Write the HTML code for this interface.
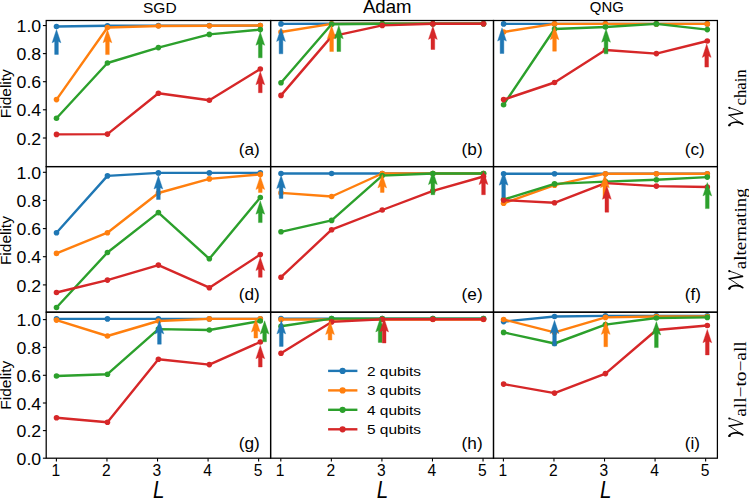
<!DOCTYPE html>
<html><head><meta charset="utf-8"><title>Fidelity vs L</title>
<style>
html,body{margin:0;padding:0;background:#fff;}
body{width:749px;height:498px;overflow:hidden;}
svg{display:block;}
text{font-family:"Liberation Sans",sans-serif;fill:#000;}
.tk{font-size:15.6px;}
.pl{font-size:17.2px;}
.tt{font-size:15.5px;}
.yl{font-size:14.8px;}
.lg{font-size:12.6px;}
.xl{font-size:24px;font-style:italic;}
.sb{font-family:"Liberation Serif",serif;font-size:16.4px;}
</style></head>
<body>
<svg width="749" height="498" viewBox="0 0 749 498">
<rect x="0" y="0" width="749" height="498" fill="#fff"/>
<clipPath id="c00"><rect x="46.20" y="20.50" width="224.40" height="146.10"/></clipPath>
<g clip-path="url(#c00)">
<polyline points="56.50,26.50 107.45,25.70 158.40,25.60 209.35,25.60 260.30,25.60" fill="none" stroke="#1f77b4" stroke-width="2.40" stroke-linejoin="round" stroke-linecap="butt"/>
<circle cx="56.50" cy="26.50" r="2.80" fill="#1f77b4"/>
<circle cx="107.45" cy="25.70" r="2.80" fill="#1f77b4"/>
<circle cx="158.40" cy="25.60" r="2.80" fill="#1f77b4"/>
<circle cx="209.35" cy="25.60" r="2.80" fill="#1f77b4"/>
<circle cx="260.30" cy="25.60" r="2.80" fill="#1f77b4"/>
<polyline points="56.50,99.60 107.45,27.50 158.40,26.00 209.35,25.70 260.30,25.50" fill="none" stroke="#ff7f0e" stroke-width="2.40" stroke-linejoin="round" stroke-linecap="butt"/>
<circle cx="56.50" cy="99.60" r="2.80" fill="#ff7f0e"/>
<circle cx="107.45" cy="27.50" r="2.80" fill="#ff7f0e"/>
<circle cx="158.40" cy="26.00" r="2.80" fill="#ff7f0e"/>
<circle cx="209.35" cy="25.70" r="2.80" fill="#ff7f0e"/>
<circle cx="260.30" cy="25.50" r="2.80" fill="#ff7f0e"/>
<polyline points="56.50,118.20 107.45,63.00 158.40,47.60 209.35,34.40 260.30,29.60" fill="none" stroke="#2ca02c" stroke-width="2.40" stroke-linejoin="round" stroke-linecap="butt"/>
<circle cx="56.50" cy="118.20" r="2.80" fill="#2ca02c"/>
<circle cx="107.45" cy="63.00" r="2.80" fill="#2ca02c"/>
<circle cx="158.40" cy="47.60" r="2.80" fill="#2ca02c"/>
<circle cx="209.35" cy="34.40" r="2.80" fill="#2ca02c"/>
<circle cx="260.30" cy="29.60" r="2.80" fill="#2ca02c"/>
<polyline points="56.50,134.40 107.45,134.10 158.40,93.30 209.35,100.20 260.30,69.00" fill="none" stroke="#d62728" stroke-width="2.40" stroke-linejoin="round" stroke-linecap="butt"/>
<circle cx="56.50" cy="134.40" r="2.80" fill="#d62728"/>
<circle cx="107.45" cy="134.10" r="2.80" fill="#d62728"/>
<circle cx="158.40" cy="93.30" r="2.80" fill="#d62728"/>
<circle cx="209.35" cy="100.20" r="2.80" fill="#d62728"/>
<circle cx="260.30" cy="69.00" r="2.80" fill="#d62728"/>
<polygon points="56.50,29.50 60.90,42.80 58.35,41.50 58.35,54.40 54.65,54.40 54.65,41.50 52.10,42.80" fill="#1f77b4" stroke="#1f77b4" stroke-width="0.4" stroke-linejoin="miter"/>
<polygon points="107.45,29.50 111.85,42.80 109.30,41.50 109.30,54.60 105.60,54.60 105.60,41.50 103.05,42.80" fill="#ff7f0e" stroke="#ff7f0e" stroke-width="0.4" stroke-linejoin="miter"/>
<polygon points="260.30,32.00 264.70,45.30 262.15,44.00 262.15,57.80 258.45,57.80 258.45,44.00 255.90,45.30" fill="#2ca02c" stroke="#2ca02c" stroke-width="0.4" stroke-linejoin="miter"/>
<polygon points="260.30,71.40 264.70,84.70 262.15,83.40 262.15,92.70 258.45,92.70 258.45,83.40 255.90,84.70" fill="#d62728" stroke="#d62728" stroke-width="0.4" stroke-linejoin="miter"/>
</g>
<text x="238.80" y="154.70" class="pl">(a)</text>
<clipPath id="c10"><rect x="270.60" y="20.50" width="222.90" height="146.10"/></clipPath>
<g clip-path="url(#c10)">
<polyline points="281.00,23.90 331.62,23.70 382.25,23.70 432.88,23.70 483.50,23.70" fill="none" stroke="#1f77b4" stroke-width="2.40" stroke-linejoin="round" stroke-linecap="butt"/>
<circle cx="281.00" cy="23.90" r="2.80" fill="#1f77b4"/>
<circle cx="331.62" cy="23.70" r="2.80" fill="#1f77b4"/>
<circle cx="382.25" cy="23.70" r="2.80" fill="#1f77b4"/>
<circle cx="432.88" cy="23.70" r="2.80" fill="#1f77b4"/>
<circle cx="483.50" cy="23.70" r="2.80" fill="#1f77b4"/>
<polyline points="281.00,32.00 331.62,23.90 382.25,23.70 432.88,23.70 483.50,23.70" fill="none" stroke="#ff7f0e" stroke-width="2.40" stroke-linejoin="round" stroke-linecap="butt"/>
<circle cx="281.00" cy="32.00" r="2.80" fill="#ff7f0e"/>
<circle cx="331.62" cy="23.90" r="2.80" fill="#ff7f0e"/>
<circle cx="382.25" cy="23.70" r="2.80" fill="#ff7f0e"/>
<circle cx="432.88" cy="23.70" r="2.80" fill="#ff7f0e"/>
<circle cx="483.50" cy="23.70" r="2.80" fill="#ff7f0e"/>
<polyline points="281.00,82.80 331.62,24.20 382.25,23.70 432.88,23.70 483.50,23.70" fill="none" stroke="#2ca02c" stroke-width="2.40" stroke-linejoin="round" stroke-linecap="butt"/>
<circle cx="281.00" cy="82.80" r="2.80" fill="#2ca02c"/>
<circle cx="331.62" cy="24.20" r="2.80" fill="#2ca02c"/>
<circle cx="382.25" cy="23.70" r="2.80" fill="#2ca02c"/>
<circle cx="432.88" cy="23.70" r="2.80" fill="#2ca02c"/>
<circle cx="483.50" cy="23.70" r="2.80" fill="#2ca02c"/>
<polyline points="281.00,95.40 331.62,36.40 382.25,25.40 432.88,23.70 483.50,23.70" fill="none" stroke="#d62728" stroke-width="2.40" stroke-linejoin="round" stroke-linecap="butt"/>
<circle cx="281.00" cy="95.40" r="2.80" fill="#d62728"/>
<circle cx="331.62" cy="36.40" r="2.80" fill="#d62728"/>
<circle cx="382.25" cy="25.40" r="2.80" fill="#d62728"/>
<circle cx="432.88" cy="23.70" r="2.80" fill="#d62728"/>
<circle cx="483.50" cy="23.70" r="2.80" fill="#d62728"/>
<polygon points="281.00,28.10 285.40,41.40 282.85,40.10 282.85,53.80 279.15,53.80 279.15,40.10 276.60,41.40" fill="#1f77b4" stroke="#1f77b4" stroke-width="0.4" stroke-linejoin="miter"/>
<polygon points="331.62,25.60 336.02,38.90 333.48,37.60 333.48,51.50 329.77,51.50 329.77,37.60 327.23,38.90" fill="#ff7f0e" stroke="#ff7f0e" stroke-width="0.4" stroke-linejoin="miter"/>
<polygon points="338.82,25.40 343.22,38.70 340.68,37.40 340.68,51.50 336.97,51.50 336.97,37.40 334.43,38.70" fill="#2ca02c" stroke="#2ca02c" stroke-width="0.4" stroke-linejoin="miter"/>
<polygon points="432.88,26.10 437.27,39.40 434.73,38.10 434.73,49.50 431.02,49.50 431.02,38.10 428.48,39.40" fill="#d62728" stroke="#d62728" stroke-width="0.4" stroke-linejoin="miter"/>
</g>
<text x="461.60" y="154.70" class="pl">(b)</text>
<clipPath id="c20"><rect x="493.50" y="20.50" width="223.90" height="146.10"/></clipPath>
<g clip-path="url(#c20)">
<polyline points="503.60,23.90 554.52,23.90 605.45,23.90 656.38,23.90 707.30,23.90" fill="none" stroke="#1f77b4" stroke-width="2.40" stroke-linejoin="round" stroke-linecap="butt"/>
<circle cx="503.60" cy="23.90" r="2.80" fill="#1f77b4"/>
<circle cx="554.52" cy="23.90" r="2.80" fill="#1f77b4"/>
<circle cx="605.45" cy="23.90" r="2.80" fill="#1f77b4"/>
<circle cx="656.38" cy="23.90" r="2.80" fill="#1f77b4"/>
<circle cx="707.30" cy="23.90" r="2.80" fill="#1f77b4"/>
<polyline points="503.60,32.00 554.52,23.90 605.45,23.90 656.38,23.90 707.30,23.90" fill="none" stroke="#ff7f0e" stroke-width="2.40" stroke-linejoin="round" stroke-linecap="butt"/>
<circle cx="503.60" cy="32.00" r="2.80" fill="#ff7f0e"/>
<circle cx="554.52" cy="23.90" r="2.80" fill="#ff7f0e"/>
<circle cx="605.45" cy="23.90" r="2.80" fill="#ff7f0e"/>
<circle cx="656.38" cy="23.90" r="2.80" fill="#ff7f0e"/>
<circle cx="707.30" cy="23.90" r="2.80" fill="#ff7f0e"/>
<polyline points="503.60,104.70 554.52,29.00 605.45,27.00 656.38,23.90 707.30,29.60" fill="none" stroke="#2ca02c" stroke-width="2.40" stroke-linejoin="round" stroke-linecap="butt"/>
<circle cx="503.60" cy="104.70" r="2.80" fill="#2ca02c"/>
<circle cx="554.52" cy="29.00" r="2.80" fill="#2ca02c"/>
<circle cx="605.45" cy="27.00" r="2.80" fill="#2ca02c"/>
<circle cx="656.38" cy="23.90" r="2.80" fill="#2ca02c"/>
<circle cx="707.30" cy="29.60" r="2.80" fill="#2ca02c"/>
<polyline points="503.60,99.60 554.52,82.50 605.45,50.00 656.38,53.60 707.30,41.00" fill="none" stroke="#d62728" stroke-width="2.40" stroke-linejoin="round" stroke-linecap="butt"/>
<circle cx="503.60" cy="99.60" r="2.80" fill="#d62728"/>
<circle cx="554.52" cy="82.50" r="2.80" fill="#d62728"/>
<circle cx="605.45" cy="50.00" r="2.80" fill="#d62728"/>
<circle cx="656.38" cy="53.60" r="2.80" fill="#d62728"/>
<circle cx="707.30" cy="41.00" r="2.80" fill="#d62728"/>
<polygon points="502.00,27.80 506.40,41.10 503.85,39.80 503.85,53.50 500.15,53.50 500.15,39.80 497.60,41.10" fill="#1f77b4" stroke="#1f77b4" stroke-width="0.4" stroke-linejoin="miter"/>
<polygon points="554.52,26.50 558.92,39.80 556.38,38.50 556.38,51.20 552.67,51.20 552.67,38.50 550.12,39.80" fill="#ff7f0e" stroke="#ff7f0e" stroke-width="0.4" stroke-linejoin="miter"/>
<polygon points="606.05,28.90 610.45,42.20 607.90,40.90 607.90,53.80 604.20,53.80 604.20,40.90 601.65,42.20" fill="#2ca02c" stroke="#2ca02c" stroke-width="0.4" stroke-linejoin="miter"/>
<polygon points="706.70,44.10 711.10,57.40 708.55,56.10 708.55,67.10 704.85,67.10 704.85,56.10 702.30,57.40" fill="#d62728" stroke="#d62728" stroke-width="0.4" stroke-linejoin="miter"/>
</g>
<text x="684.70" y="154.70" class="pl">(c)</text>
<clipPath id="c01"><rect x="46.20" y="166.60" width="224.40" height="145.60"/></clipPath>
<g clip-path="url(#c01)">
<polyline points="56.50,232.70 107.45,175.90 158.40,172.90 209.35,172.90 260.30,172.90" fill="none" stroke="#1f77b4" stroke-width="2.40" stroke-linejoin="round" stroke-linecap="butt"/>
<circle cx="56.50" cy="232.70" r="2.80" fill="#1f77b4"/>
<circle cx="107.45" cy="175.90" r="2.80" fill="#1f77b4"/>
<circle cx="158.40" cy="172.90" r="2.80" fill="#1f77b4"/>
<circle cx="209.35" cy="172.90" r="2.80" fill="#1f77b4"/>
<circle cx="260.30" cy="172.90" r="2.80" fill="#1f77b4"/>
<polyline points="56.50,253.40 107.45,232.70 158.40,193.00 209.35,178.90 260.30,174.40" fill="none" stroke="#ff7f0e" stroke-width="2.40" stroke-linejoin="round" stroke-linecap="butt"/>
<circle cx="56.50" cy="253.40" r="2.80" fill="#ff7f0e"/>
<circle cx="107.45" cy="232.70" r="2.80" fill="#ff7f0e"/>
<circle cx="158.40" cy="193.00" r="2.80" fill="#ff7f0e"/>
<circle cx="209.35" cy="178.90" r="2.80" fill="#ff7f0e"/>
<circle cx="260.30" cy="174.40" r="2.80" fill="#ff7f0e"/>
<polyline points="56.50,307.50 107.45,252.50 158.40,212.60 209.35,258.80 260.30,197.50" fill="none" stroke="#2ca02c" stroke-width="2.40" stroke-linejoin="round" stroke-linecap="butt"/>
<circle cx="56.50" cy="307.50" r="2.80" fill="#2ca02c"/>
<circle cx="107.45" cy="252.50" r="2.80" fill="#2ca02c"/>
<circle cx="158.40" cy="212.60" r="2.80" fill="#2ca02c"/>
<circle cx="209.35" cy="258.80" r="2.80" fill="#2ca02c"/>
<circle cx="260.30" cy="197.50" r="2.80" fill="#2ca02c"/>
<polyline points="56.50,292.50 107.45,280.10 158.40,265.10 209.35,287.70 260.30,254.60" fill="none" stroke="#d62728" stroke-width="2.40" stroke-linejoin="round" stroke-linecap="butt"/>
<circle cx="56.50" cy="292.50" r="2.80" fill="#d62728"/>
<circle cx="107.45" cy="280.10" r="2.80" fill="#d62728"/>
<circle cx="158.40" cy="265.10" r="2.80" fill="#d62728"/>
<circle cx="209.35" cy="287.70" r="2.80" fill="#d62728"/>
<circle cx="260.30" cy="254.60" r="2.80" fill="#d62728"/>
<polygon points="158.40,175.70 162.80,189.00 160.25,187.70 160.25,199.50 156.55,199.50 156.55,187.70 154.00,189.00" fill="#1f77b4" stroke="#1f77b4" stroke-width="0.4" stroke-linejoin="miter"/>
<polygon points="260.30,176.20 264.70,189.50 262.15,188.20 262.15,192.50 258.45,192.50 258.45,188.20 255.90,189.50" fill="#ff7f0e" stroke="#ff7f0e" stroke-width="0.4" stroke-linejoin="miter"/>
<polygon points="260.30,200.90 264.70,214.20 262.15,212.90 262.15,222.60 258.45,222.60 258.45,212.90 255.90,214.20" fill="#2ca02c" stroke="#2ca02c" stroke-width="0.4" stroke-linejoin="miter"/>
<polygon points="260.30,257.30 264.70,270.60 262.15,269.30 262.15,277.30 258.45,277.30 258.45,269.30 255.90,270.60" fill="#d62728" stroke="#d62728" stroke-width="0.4" stroke-linejoin="miter"/>
</g>
<text x="238.80" y="299.90" class="pl">(d)</text>
<clipPath id="c11"><rect x="270.60" y="166.60" width="222.90" height="145.60"/></clipPath>
<g clip-path="url(#c11)">
<polyline points="281.00,173.50 331.62,173.50 382.25,173.50 432.88,173.50 483.50,173.50" fill="none" stroke="#1f77b4" stroke-width="2.40" stroke-linejoin="round" stroke-linecap="butt"/>
<circle cx="281.00" cy="173.50" r="2.80" fill="#1f77b4"/>
<circle cx="331.62" cy="173.50" r="2.80" fill="#1f77b4"/>
<circle cx="382.25" cy="173.50" r="2.80" fill="#1f77b4"/>
<circle cx="432.88" cy="173.50" r="2.80" fill="#1f77b4"/>
<circle cx="483.50" cy="173.50" r="2.80" fill="#1f77b4"/>
<polyline points="281.00,192.90 331.62,196.50 382.25,173.50 432.88,173.50 483.50,173.50" fill="none" stroke="#ff7f0e" stroke-width="2.40" stroke-linejoin="round" stroke-linecap="butt"/>
<circle cx="281.00" cy="192.90" r="2.80" fill="#ff7f0e"/>
<circle cx="331.62" cy="196.50" r="2.80" fill="#ff7f0e"/>
<circle cx="382.25" cy="173.50" r="2.80" fill="#ff7f0e"/>
<circle cx="432.88" cy="173.50" r="2.80" fill="#ff7f0e"/>
<circle cx="483.50" cy="173.50" r="2.80" fill="#ff7f0e"/>
<polyline points="281.00,231.80 331.62,220.40 382.25,175.60 432.88,173.50 483.50,173.50" fill="none" stroke="#2ca02c" stroke-width="2.40" stroke-linejoin="round" stroke-linecap="butt"/>
<circle cx="281.00" cy="231.80" r="2.80" fill="#2ca02c"/>
<circle cx="331.62" cy="220.40" r="2.80" fill="#2ca02c"/>
<circle cx="382.25" cy="175.60" r="2.80" fill="#2ca02c"/>
<circle cx="432.88" cy="173.50" r="2.80" fill="#2ca02c"/>
<circle cx="483.50" cy="173.50" r="2.80" fill="#2ca02c"/>
<polyline points="281.00,277.20 331.62,229.70 382.25,210.00 432.88,190.80 483.50,176.50" fill="none" stroke="#d62728" stroke-width="2.40" stroke-linejoin="round" stroke-linecap="butt"/>
<circle cx="281.00" cy="277.20" r="2.80" fill="#d62728"/>
<circle cx="331.62" cy="229.70" r="2.80" fill="#d62728"/>
<circle cx="382.25" cy="210.00" r="2.80" fill="#d62728"/>
<circle cx="432.88" cy="190.80" r="2.80" fill="#d62728"/>
<circle cx="483.50" cy="176.50" r="2.80" fill="#d62728"/>
<polygon points="281.10,175.20 285.50,188.50 282.95,187.20 282.95,198.40 279.25,198.40 279.25,187.20 276.70,188.50" fill="#1f77b4" stroke="#1f77b4" stroke-width="0.4" stroke-linejoin="miter"/>
<polygon points="382.25,174.60 386.65,187.90 384.10,186.60 384.10,192.40 380.40,192.40 380.40,186.60 377.85,187.90" fill="#ff7f0e" stroke="#ff7f0e" stroke-width="0.4" stroke-linejoin="miter"/>
<polygon points="432.88,171.30 437.27,184.60 434.73,183.30 434.73,194.70 431.02,194.70 431.02,183.30 428.48,184.60" fill="#2ca02c" stroke="#2ca02c" stroke-width="0.4" stroke-linejoin="miter"/>
<polygon points="483.50,171.30 487.90,184.60 485.35,183.30 485.35,194.70 481.65,194.70 481.65,183.30 479.10,184.60" fill="#d62728" stroke="#d62728" stroke-width="0.4" stroke-linejoin="miter"/>
</g>
<text x="461.60" y="299.90" class="pl">(e)</text>
<clipPath id="c21"><rect x="493.50" y="166.60" width="223.90" height="145.60"/></clipPath>
<g clip-path="url(#c21)">
<polyline points="503.60,173.70 554.52,173.70 605.45,173.70 656.38,173.70 707.30,173.70" fill="none" stroke="#1f77b4" stroke-width="2.40" stroke-linejoin="round" stroke-linecap="butt"/>
<circle cx="503.60" cy="173.70" r="2.80" fill="#1f77b4"/>
<circle cx="554.52" cy="173.70" r="2.80" fill="#1f77b4"/>
<circle cx="605.45" cy="173.70" r="2.80" fill="#1f77b4"/>
<circle cx="656.38" cy="173.70" r="2.80" fill="#1f77b4"/>
<circle cx="707.30" cy="173.70" r="2.80" fill="#1f77b4"/>
<polyline points="503.60,203.30 554.52,185.20 605.45,173.70 656.38,173.70 707.30,173.70" fill="none" stroke="#ff7f0e" stroke-width="2.40" stroke-linejoin="round" stroke-linecap="butt"/>
<circle cx="503.60" cy="203.30" r="2.80" fill="#ff7f0e"/>
<circle cx="554.52" cy="185.20" r="2.80" fill="#ff7f0e"/>
<circle cx="605.45" cy="173.70" r="2.80" fill="#ff7f0e"/>
<circle cx="656.38" cy="173.70" r="2.80" fill="#ff7f0e"/>
<circle cx="707.30" cy="173.70" r="2.80" fill="#ff7f0e"/>
<polyline points="503.60,199.60 554.52,183.90 605.45,181.60 656.38,179.80 707.30,177.10" fill="none" stroke="#2ca02c" stroke-width="2.40" stroke-linejoin="round" stroke-linecap="butt"/>
<circle cx="503.60" cy="199.60" r="2.80" fill="#2ca02c"/>
<circle cx="554.52" cy="183.90" r="2.80" fill="#2ca02c"/>
<circle cx="605.45" cy="181.60" r="2.80" fill="#2ca02c"/>
<circle cx="656.38" cy="179.80" r="2.80" fill="#2ca02c"/>
<circle cx="707.30" cy="177.10" r="2.80" fill="#2ca02c"/>
<polyline points="503.60,200.10 554.52,202.80 605.45,183.10 656.38,186.10 707.30,187.00" fill="none" stroke="#d62728" stroke-width="2.40" stroke-linejoin="round" stroke-linecap="butt"/>
<circle cx="503.60" cy="200.10" r="2.80" fill="#d62728"/>
<circle cx="554.52" cy="202.80" r="2.80" fill="#d62728"/>
<circle cx="605.45" cy="183.10" r="2.80" fill="#d62728"/>
<circle cx="656.38" cy="186.10" r="2.80" fill="#d62728"/>
<circle cx="707.30" cy="187.00" r="2.80" fill="#d62728"/>
<polygon points="503.60,171.90 508.00,185.20 505.45,183.90 505.45,197.20 501.75,197.20 501.75,183.90 499.20,185.20" fill="#1f77b4" stroke="#1f77b4" stroke-width="0.4" stroke-linejoin="miter"/>
<polygon points="604.85,174.40 609.25,187.70 606.70,186.40 606.70,198.00 603.00,198.00 603.00,186.40 600.45,187.70" fill="#ff7f0e" stroke="#ff7f0e" stroke-width="0.4" stroke-linejoin="miter"/>
<polygon points="606.85,186.00 611.25,199.30 608.70,198.00 608.70,212.20 605.00,212.20 605.00,198.00 602.45,199.30" fill="#d62728" stroke="#d62728" stroke-width="0.4" stroke-linejoin="miter"/>
<polygon points="707.30,182.60 711.70,195.90 709.15,194.60 709.15,208.60 705.45,208.60 705.45,194.60 702.90,195.90" fill="#2ca02c" stroke="#2ca02c" stroke-width="0.4" stroke-linejoin="miter"/>
</g>
<text x="684.70" y="299.90" class="pl">(f)</text>
<clipPath id="c02"><rect x="46.20" y="312.20" width="224.40" height="146.00"/></clipPath>
<g clip-path="url(#c02)">
<polyline points="56.50,318.90 107.45,318.90 158.40,318.90 209.35,318.90 260.30,318.90" fill="none" stroke="#1f77b4" stroke-width="2.40" stroke-linejoin="round" stroke-linecap="butt"/>
<circle cx="56.50" cy="318.90" r="2.80" fill="#1f77b4"/>
<circle cx="107.45" cy="318.90" r="2.80" fill="#1f77b4"/>
<circle cx="158.40" cy="318.90" r="2.80" fill="#1f77b4"/>
<circle cx="209.35" cy="318.90" r="2.80" fill="#1f77b4"/>
<circle cx="260.30" cy="318.90" r="2.80" fill="#1f77b4"/>
<polyline points="56.50,320.10 107.45,336.00 158.40,321.00 209.35,318.90 260.30,318.90" fill="none" stroke="#ff7f0e" stroke-width="2.40" stroke-linejoin="round" stroke-linecap="butt"/>
<circle cx="56.50" cy="320.10" r="2.80" fill="#ff7f0e"/>
<circle cx="107.45" cy="336.00" r="2.80" fill="#ff7f0e"/>
<circle cx="158.40" cy="321.00" r="2.80" fill="#ff7f0e"/>
<circle cx="209.35" cy="318.90" r="2.80" fill="#ff7f0e"/>
<circle cx="260.30" cy="318.90" r="2.80" fill="#ff7f0e"/>
<polyline points="56.50,376.00 107.45,374.20 158.40,329.10 209.35,330.00 260.30,321.00" fill="none" stroke="#2ca02c" stroke-width="2.40" stroke-linejoin="round" stroke-linecap="butt"/>
<circle cx="56.50" cy="376.00" r="2.80" fill="#2ca02c"/>
<circle cx="107.45" cy="374.20" r="2.80" fill="#2ca02c"/>
<circle cx="158.40" cy="329.10" r="2.80" fill="#2ca02c"/>
<circle cx="209.35" cy="330.00" r="2.80" fill="#2ca02c"/>
<circle cx="260.30" cy="321.00" r="2.80" fill="#2ca02c"/>
<polyline points="56.50,417.70 107.45,422.20 158.40,359.20 209.35,364.60 260.30,342.00" fill="none" stroke="#d62728" stroke-width="2.40" stroke-linejoin="round" stroke-linecap="butt"/>
<circle cx="56.50" cy="417.70" r="2.80" fill="#d62728"/>
<circle cx="107.45" cy="422.20" r="2.80" fill="#d62728"/>
<circle cx="158.40" cy="359.20" r="2.80" fill="#d62728"/>
<circle cx="209.35" cy="364.60" r="2.80" fill="#d62728"/>
<circle cx="260.30" cy="342.00" r="2.80" fill="#d62728"/>
<polygon points="159.40,320.60 163.80,333.90 161.25,332.60 161.25,344.20 157.55,344.20 157.55,332.60 155.00,333.90" fill="#1f77b4" stroke="#1f77b4" stroke-width="0.4" stroke-linejoin="miter"/>
<polygon points="255.80,318.80 260.20,332.10 257.65,330.80 257.65,338.00 253.95,338.00 253.95,330.80 251.40,332.10" fill="#ff7f0e" stroke="#ff7f0e" stroke-width="0.4" stroke-linejoin="miter"/>
<polygon points="264.60,320.80 269.00,334.10 266.45,332.80 266.45,341.80 262.75,341.80 262.75,332.80 260.20,334.10" fill="#2ca02c" stroke="#2ca02c" stroke-width="0.4" stroke-linejoin="miter"/>
<polygon points="260.30,345.40 264.70,358.70 262.15,357.40 262.15,367.00 258.45,367.00 258.45,357.40 255.90,358.70" fill="#d62728" stroke="#d62728" stroke-width="0.4" stroke-linejoin="miter"/>
</g>
<text x="238.80" y="449.20" class="pl">(g)</text>
<clipPath id="c12"><rect x="270.60" y="312.20" width="222.90" height="146.00"/></clipPath>
<g clip-path="url(#c12)">
<polyline points="281.00,318.60 331.62,318.60 382.25,318.60 432.88,318.60 483.50,318.60" fill="none" stroke="#1f77b4" stroke-width="2.40" stroke-linejoin="round" stroke-linecap="butt"/>
<circle cx="281.00" cy="318.60" r="2.80" fill="#1f77b4"/>
<circle cx="331.62" cy="318.60" r="2.80" fill="#1f77b4"/>
<circle cx="382.25" cy="318.60" r="2.80" fill="#1f77b4"/>
<circle cx="432.88" cy="318.60" r="2.80" fill="#1f77b4"/>
<circle cx="483.50" cy="318.60" r="2.80" fill="#1f77b4"/>
<polyline points="281.00,319.50 331.62,319.50 382.25,319.50 432.88,319.50 483.50,319.50" fill="none" stroke="#ff7f0e" stroke-width="2.40" stroke-linejoin="round" stroke-linecap="butt"/>
<circle cx="281.00" cy="319.50" r="2.80" fill="#ff7f0e"/>
<circle cx="331.62" cy="319.50" r="2.80" fill="#ff7f0e"/>
<circle cx="382.25" cy="319.50" r="2.80" fill="#ff7f0e"/>
<circle cx="432.88" cy="319.50" r="2.80" fill="#ff7f0e"/>
<circle cx="483.50" cy="319.50" r="2.80" fill="#ff7f0e"/>
<polyline points="281.00,326.30 331.62,318.60 382.25,318.60 432.88,318.60 483.50,318.60" fill="none" stroke="#2ca02c" stroke-width="2.40" stroke-linejoin="round" stroke-linecap="butt"/>
<circle cx="281.00" cy="326.30" r="2.80" fill="#2ca02c"/>
<circle cx="331.62" cy="318.60" r="2.80" fill="#2ca02c"/>
<circle cx="382.25" cy="318.60" r="2.80" fill="#2ca02c"/>
<circle cx="432.88" cy="318.60" r="2.80" fill="#2ca02c"/>
<circle cx="483.50" cy="318.60" r="2.80" fill="#2ca02c"/>
<polyline points="281.00,353.30 331.62,321.90 382.25,319.20 432.88,319.20 483.50,319.20" fill="none" stroke="#d62728" stroke-width="2.40" stroke-linejoin="round" stroke-linecap="butt"/>
<circle cx="281.00" cy="353.30" r="2.80" fill="#d62728"/>
<circle cx="331.62" cy="321.90" r="2.80" fill="#d62728"/>
<circle cx="382.25" cy="319.20" r="2.80" fill="#d62728"/>
<circle cx="432.88" cy="319.20" r="2.80" fill="#d62728"/>
<circle cx="483.50" cy="319.20" r="2.80" fill="#d62728"/>
<polygon points="281.30,320.60 285.70,333.90 283.15,332.60 283.15,346.40 279.45,346.40 279.45,332.60 276.90,333.90" fill="#1f77b4" stroke="#1f77b4" stroke-width="0.4" stroke-linejoin="miter"/>
<polygon points="330.02,321.30 334.42,334.60 331.88,333.30 331.88,340.00 328.17,340.00 328.17,333.30 325.62,334.60" fill="#ff7f0e" stroke="#ff7f0e" stroke-width="0.4" stroke-linejoin="miter"/>
<polygon points="380.15,318.60 384.55,331.90 382.00,330.60 382.00,342.40 378.30,342.40 378.30,330.60 375.75,331.90" fill="#2ca02c" stroke="#2ca02c" stroke-width="0.4" stroke-linejoin="miter"/>
<polygon points="384.15,318.60 388.55,331.90 386.00,330.60 386.00,343.00 382.30,343.00 382.30,330.60 379.75,331.90" fill="#d62728" stroke="#d62728" stroke-width="0.4" stroke-linejoin="miter"/>
</g>
<text x="461.60" y="449.20" class="pl">(h)</text>
<clipPath id="c22"><rect x="493.50" y="312.20" width="223.90" height="146.00"/></clipPath>
<g clip-path="url(#c22)">
<polyline points="503.60,321.60 554.52,316.50 605.45,315.90 656.38,315.90 707.30,315.90" fill="none" stroke="#1f77b4" stroke-width="2.40" stroke-linejoin="round" stroke-linecap="butt"/>
<circle cx="503.60" cy="321.60" r="2.80" fill="#1f77b4"/>
<circle cx="554.52" cy="316.50" r="2.80" fill="#1f77b4"/>
<circle cx="605.45" cy="315.90" r="2.80" fill="#1f77b4"/>
<circle cx="656.38" cy="315.90" r="2.80" fill="#1f77b4"/>
<circle cx="707.30" cy="315.90" r="2.80" fill="#1f77b4"/>
<polyline points="503.60,319.50 554.52,332.40 605.45,317.40 656.38,316.50 707.30,316.50" fill="none" stroke="#ff7f0e" stroke-width="2.40" stroke-linejoin="round" stroke-linecap="butt"/>
<circle cx="503.60" cy="319.50" r="2.80" fill="#ff7f0e"/>
<circle cx="554.52" cy="332.40" r="2.80" fill="#ff7f0e"/>
<circle cx="605.45" cy="317.40" r="2.80" fill="#ff7f0e"/>
<circle cx="656.38" cy="316.50" r="2.80" fill="#ff7f0e"/>
<circle cx="707.30" cy="316.50" r="2.80" fill="#ff7f0e"/>
<polyline points="503.60,332.40 554.52,343.50 605.45,324.60 656.38,318.00 707.30,317.40" fill="none" stroke="#2ca02c" stroke-width="2.40" stroke-linejoin="round" stroke-linecap="butt"/>
<circle cx="503.60" cy="332.40" r="2.80" fill="#2ca02c"/>
<circle cx="554.52" cy="343.50" r="2.80" fill="#2ca02c"/>
<circle cx="605.45" cy="324.60" r="2.80" fill="#2ca02c"/>
<circle cx="656.38" cy="318.00" r="2.80" fill="#2ca02c"/>
<circle cx="707.30" cy="317.40" r="2.80" fill="#2ca02c"/>
<polyline points="503.60,384.10 554.52,393.10 605.45,373.60 656.38,330.00 707.30,325.50" fill="none" stroke="#d62728" stroke-width="2.40" stroke-linejoin="round" stroke-linecap="butt"/>
<circle cx="503.60" cy="384.10" r="2.80" fill="#d62728"/>
<circle cx="554.52" cy="393.10" r="2.80" fill="#d62728"/>
<circle cx="605.45" cy="373.60" r="2.80" fill="#d62728"/>
<circle cx="656.38" cy="330.00" r="2.80" fill="#d62728"/>
<circle cx="707.30" cy="325.50" r="2.80" fill="#d62728"/>
<polygon points="554.52,320.30 558.92,333.60 556.38,332.30 556.38,346.00 552.67,346.00 552.67,332.30 550.12,333.60" fill="#1f77b4" stroke="#1f77b4" stroke-width="0.4" stroke-linejoin="miter"/>
<polygon points="605.75,321.10 610.15,334.40 607.60,333.10 607.60,346.70 603.90,346.70 603.90,333.10 601.35,334.40" fill="#ff7f0e" stroke="#ff7f0e" stroke-width="0.4" stroke-linejoin="miter"/>
<polygon points="656.38,321.60 660.77,334.90 658.23,333.60 658.23,347.60 654.52,347.60 654.52,333.60 651.98,334.90" fill="#2ca02c" stroke="#2ca02c" stroke-width="0.4" stroke-linejoin="miter"/>
<polygon points="707.30,329.40 711.70,342.70 709.15,341.40 709.15,354.90 705.45,354.90 705.45,341.40 702.90,342.70" fill="#d62728" stroke="#d62728" stroke-width="0.4" stroke-linejoin="miter"/>
</g>
<text x="684.70" y="449.20" class="pl">(i)</text>
<rect x="46.20" y="20.50" width="224.40" height="146.10" fill="none" stroke="#000" stroke-width="1.25"/>
<rect x="270.60" y="20.50" width="222.90" height="146.10" fill="none" stroke="#000" stroke-width="1.25"/>
<rect x="493.50" y="20.50" width="223.90" height="146.10" fill="none" stroke="#000" stroke-width="1.25"/>
<rect x="46.20" y="166.60" width="224.40" height="145.60" fill="none" stroke="#000" stroke-width="1.25"/>
<rect x="270.60" y="166.60" width="222.90" height="145.60" fill="none" stroke="#000" stroke-width="1.25"/>
<rect x="493.50" y="166.60" width="223.90" height="145.60" fill="none" stroke="#000" stroke-width="1.25"/>
<rect x="46.20" y="312.20" width="224.40" height="146.00" fill="none" stroke="#000" stroke-width="1.25"/>
<rect x="270.60" y="312.20" width="222.90" height="146.00" fill="none" stroke="#000" stroke-width="1.25"/>
<rect x="493.50" y="312.20" width="223.90" height="146.00" fill="none" stroke="#000" stroke-width="1.25"/>
<line x1="42.90" y1="25.55" x2="46.20" y2="25.55" stroke="#000" stroke-width="1.1"/>
<text x="41.20" y="32.15" text-anchor="end" class="tk" textLength="24.6" lengthAdjust="spacingAndGlyphs">1.0</text>
<line x1="42.90" y1="53.60" x2="46.20" y2="53.60" stroke="#000" stroke-width="1.1"/>
<text x="41.20" y="60.20" text-anchor="end" class="tk" textLength="24.6" lengthAdjust="spacingAndGlyphs">0.8</text>
<line x1="42.90" y1="81.70" x2="46.20" y2="81.70" stroke="#000" stroke-width="1.1"/>
<text x="41.20" y="88.30" text-anchor="end" class="tk" textLength="24.6" lengthAdjust="spacingAndGlyphs">0.6</text>
<line x1="42.90" y1="109.80" x2="46.20" y2="109.80" stroke="#000" stroke-width="1.1"/>
<text x="41.20" y="116.40" text-anchor="end" class="tk" textLength="24.6" lengthAdjust="spacingAndGlyphs">0.4</text>
<line x1="42.90" y1="138.00" x2="46.20" y2="138.00" stroke="#000" stroke-width="1.1"/>
<text x="41.20" y="144.60" text-anchor="end" class="tk" textLength="24.6" lengthAdjust="spacingAndGlyphs">0.2</text>
<line x1="42.90" y1="172.30" x2="46.20" y2="172.30" stroke="#000" stroke-width="1.1"/>
<text x="41.20" y="178.90" text-anchor="end" class="tk" textLength="24.6" lengthAdjust="spacingAndGlyphs">1.0</text>
<line x1="42.90" y1="200.40" x2="46.20" y2="200.40" stroke="#000" stroke-width="1.1"/>
<text x="41.20" y="207.00" text-anchor="end" class="tk" textLength="24.6" lengthAdjust="spacingAndGlyphs">0.8</text>
<line x1="42.90" y1="228.60" x2="46.20" y2="228.60" stroke="#000" stroke-width="1.1"/>
<text x="41.20" y="235.20" text-anchor="end" class="tk" textLength="24.6" lengthAdjust="spacingAndGlyphs">0.6</text>
<line x1="42.90" y1="256.70" x2="46.20" y2="256.70" stroke="#000" stroke-width="1.1"/>
<text x="41.20" y="263.30" text-anchor="end" class="tk" textLength="24.6" lengthAdjust="spacingAndGlyphs">0.4</text>
<line x1="42.90" y1="284.90" x2="46.20" y2="284.90" stroke="#000" stroke-width="1.1"/>
<text x="41.20" y="291.50" text-anchor="end" class="tk" textLength="24.6" lengthAdjust="spacingAndGlyphs">0.2</text>
<line x1="42.90" y1="319.60" x2="46.20" y2="319.60" stroke="#000" stroke-width="1.1"/>
<text x="41.20" y="326.20" text-anchor="end" class="tk" textLength="24.6" lengthAdjust="spacingAndGlyphs">1.0</text>
<line x1="42.90" y1="347.40" x2="46.20" y2="347.40" stroke="#000" stroke-width="1.1"/>
<text x="41.20" y="354.00" text-anchor="end" class="tk" textLength="24.6" lengthAdjust="spacingAndGlyphs">0.8</text>
<line x1="42.90" y1="375.30" x2="46.20" y2="375.30" stroke="#000" stroke-width="1.1"/>
<text x="41.20" y="381.90" text-anchor="end" class="tk" textLength="24.6" lengthAdjust="spacingAndGlyphs">0.6</text>
<line x1="42.90" y1="403.00" x2="46.20" y2="403.00" stroke="#000" stroke-width="1.1"/>
<text x="41.20" y="409.60" text-anchor="end" class="tk" textLength="24.6" lengthAdjust="spacingAndGlyphs">0.4</text>
<line x1="42.90" y1="430.60" x2="46.20" y2="430.60" stroke="#000" stroke-width="1.1"/>
<text x="41.20" y="437.20" text-anchor="end" class="tk" textLength="24.6" lengthAdjust="spacingAndGlyphs">0.2</text>
<line x1="42.90" y1="458.20" x2="46.20" y2="458.20" stroke="#000" stroke-width="1.1"/>
<text x="41.20" y="464.80" text-anchor="end" class="tk" textLength="24.6" lengthAdjust="spacingAndGlyphs">0.0</text>
<line x1="56.40" y1="458.20" x2="56.40" y2="461.50" stroke="#000" stroke-width="1.1"/>
<text x="55.80" y="475.80" text-anchor="middle" class="tk">1</text>
<line x1="106.96" y1="458.20" x2="106.96" y2="461.50" stroke="#000" stroke-width="1.1"/>
<text x="106.36" y="475.80" text-anchor="middle" class="tk">2</text>
<line x1="157.52" y1="458.20" x2="157.52" y2="461.50" stroke="#000" stroke-width="1.1"/>
<text x="156.92" y="475.80" text-anchor="middle" class="tk">3</text>
<line x1="208.08" y1="458.20" x2="208.08" y2="461.50" stroke="#000" stroke-width="1.1"/>
<text x="207.48" y="475.80" text-anchor="middle" class="tk">4</text>
<line x1="258.64" y1="458.20" x2="258.64" y2="461.50" stroke="#000" stroke-width="1.1"/>
<text x="258.04" y="475.80" text-anchor="middle" class="tk">5</text>
<text transform="translate(158.80,498.00) scale(0.86,1)" text-anchor="middle" class="xl">L</text>
<line x1="280.80" y1="458.20" x2="280.80" y2="461.50" stroke="#000" stroke-width="1.1"/>
<text x="280.20" y="475.80" text-anchor="middle" class="tk">1</text>
<line x1="331.36" y1="458.20" x2="331.36" y2="461.50" stroke="#000" stroke-width="1.1"/>
<text x="330.76" y="475.80" text-anchor="middle" class="tk">2</text>
<line x1="381.92" y1="458.20" x2="381.92" y2="461.50" stroke="#000" stroke-width="1.1"/>
<text x="381.32" y="475.80" text-anchor="middle" class="tk">3</text>
<line x1="432.48" y1="458.20" x2="432.48" y2="461.50" stroke="#000" stroke-width="1.1"/>
<text x="431.88" y="475.80" text-anchor="middle" class="tk">4</text>
<line x1="483.04" y1="458.20" x2="483.04" y2="461.50" stroke="#000" stroke-width="1.1"/>
<text x="482.44" y="475.80" text-anchor="middle" class="tk">5</text>
<text transform="translate(382.45,498.00) scale(0.86,1)" text-anchor="middle" class="xl">L</text>
<line x1="503.40" y1="458.20" x2="503.40" y2="461.50" stroke="#000" stroke-width="1.1"/>
<text x="502.80" y="475.80" text-anchor="middle" class="tk">1</text>
<line x1="553.96" y1="458.20" x2="553.96" y2="461.50" stroke="#000" stroke-width="1.1"/>
<text x="553.36" y="475.80" text-anchor="middle" class="tk">2</text>
<line x1="604.52" y1="458.20" x2="604.52" y2="461.50" stroke="#000" stroke-width="1.1"/>
<text x="603.92" y="475.80" text-anchor="middle" class="tk">3</text>
<line x1="655.08" y1="458.20" x2="655.08" y2="461.50" stroke="#000" stroke-width="1.1"/>
<text x="654.48" y="475.80" text-anchor="middle" class="tk">4</text>
<line x1="705.64" y1="458.20" x2="705.64" y2="461.50" stroke="#000" stroke-width="1.1"/>
<text x="705.04" y="475.80" text-anchor="middle" class="tk">5</text>
<text transform="translate(605.85,498.00) scale(0.86,1)" text-anchor="middle" class="xl">L</text>
<text x="159.8" y="13.0" text-anchor="middle" class="tt" style="font-size:15.5px">SGD</text>
<text x="387.2" y="13.2" text-anchor="middle" class="tt" style="font-size:18.6px">Adam</text>
<text x="606.8" y="12.4" text-anchor="middle" class="tt" style="font-size:14.9px">QNG</text>
<text transform="translate(10.9,93.70) rotate(-90)" text-anchor="middle" class="yl" textLength="49.0" lengthAdjust="spacingAndGlyphs">Fidelity</text>
<text transform="translate(10.9,240.60) rotate(-90)" text-anchor="middle" class="yl" textLength="49.0" lengthAdjust="spacingAndGlyphs">Fidelity</text>
<text transform="translate(10.9,385.20) rotate(-90)" text-anchor="middle" class="yl" textLength="49.0" lengthAdjust="spacingAndGlyphs">Fidelity</text>
<line x1="328.1" y1="370.90" x2="357.4" y2="370.90" stroke="#1f77b4" stroke-width="2.40"/>
<circle cx="342.6" cy="370.90" r="3.10" fill="#1f77b4"/>
<text x="367.0" y="375.80" class="lg" textLength="54.0" lengthAdjust="spacingAndGlyphs">2 qubits</text>
<line x1="328.1" y1="390.40" x2="357.4" y2="390.40" stroke="#ff7f0e" stroke-width="2.40"/>
<circle cx="342.6" cy="390.40" r="3.10" fill="#ff7f0e"/>
<text x="367.0" y="395.30" class="lg" textLength="54.0" lengthAdjust="spacingAndGlyphs">3 qubits</text>
<line x1="328.1" y1="409.80" x2="357.4" y2="409.80" stroke="#2ca02c" stroke-width="2.40"/>
<circle cx="342.6" cy="409.80" r="3.10" fill="#2ca02c"/>
<text x="367.0" y="414.70" class="lg" textLength="54.0" lengthAdjust="spacingAndGlyphs">4 qubits</text>
<line x1="328.1" y1="429.30" x2="357.4" y2="429.30" stroke="#d62728" stroke-width="2.40"/>
<circle cx="342.6" cy="429.30" r="3.10" fill="#d62728"/>
<text x="367.0" y="434.20" class="lg" textLength="54.0" lengthAdjust="spacingAndGlyphs">5 qubits</text>
<g transform="translate(743.30,125.80) rotate(-90)">
<path d="M0.4,-14.3 C4.0,-12.5 4.8,-4.0 1.6,-0.6" fill="none" stroke="#000" stroke-width="1.7" stroke-linecap="round"/><path d="M10.5,-14.1 L12.8,-0.8" fill="none" stroke="#000" stroke-width="1.6" stroke-linecap="round"/><path d="M1.6,-0.6 L10.5,-14.1 M12.9,-0.6 Q16.1,-6.5 18.2,-14.3" fill="none" stroke="#000" stroke-width="0.85" stroke-linecap="round"/><circle cx="0.6" cy="-13.7" r="1.15" fill="#000"/><circle cx="18.0" cy="-13.9" r="1.1" fill="#000"/>
<text x="20.40" y="2.7" class="sb" textLength="36.1" lengthAdjust="spacingAndGlyphs">chain</text>
</g>
<g transform="translate(743.30,289.20) rotate(-90)">
<path d="M0.4,-14.3 C4.0,-12.5 4.8,-4.0 1.6,-0.6" fill="none" stroke="#000" stroke-width="1.7" stroke-linecap="round"/><path d="M10.5,-14.1 L12.8,-0.8" fill="none" stroke="#000" stroke-width="1.6" stroke-linecap="round"/><path d="M1.6,-0.6 L10.5,-14.1 M12.9,-0.6 Q16.1,-6.5 18.2,-14.3" fill="none" stroke="#000" stroke-width="0.85" stroke-linecap="round"/><circle cx="0.6" cy="-13.7" r="1.15" fill="#000"/><circle cx="18.0" cy="-13.9" r="1.1" fill="#000"/>
<text x="20.00" y="2.7" class="sb" textLength="81.0" lengthAdjust="spacingAndGlyphs">alternating</text>
</g>
<g transform="translate(743.30,436.50) rotate(-90)">
<path d="M0.4,-14.3 C4.0,-12.5 4.8,-4.0 1.6,-0.6" fill="none" stroke="#000" stroke-width="1.7" stroke-linecap="round"/><path d="M10.5,-14.1 L12.8,-0.8" fill="none" stroke="#000" stroke-width="1.6" stroke-linecap="round"/><path d="M1.6,-0.6 L10.5,-14.1 M12.9,-0.6 Q16.1,-6.5 18.2,-14.3" fill="none" stroke="#000" stroke-width="0.85" stroke-linecap="round"/><circle cx="0.6" cy="-13.7" r="1.15" fill="#000"/><circle cx="18.0" cy="-13.9" r="1.1" fill="#000"/>
<text x="19.70" y="2.7" class="sb" textLength="75.5" lengthAdjust="spacingAndGlyphs">all−to−all</text>
</g>
</svg>
</body></html>
